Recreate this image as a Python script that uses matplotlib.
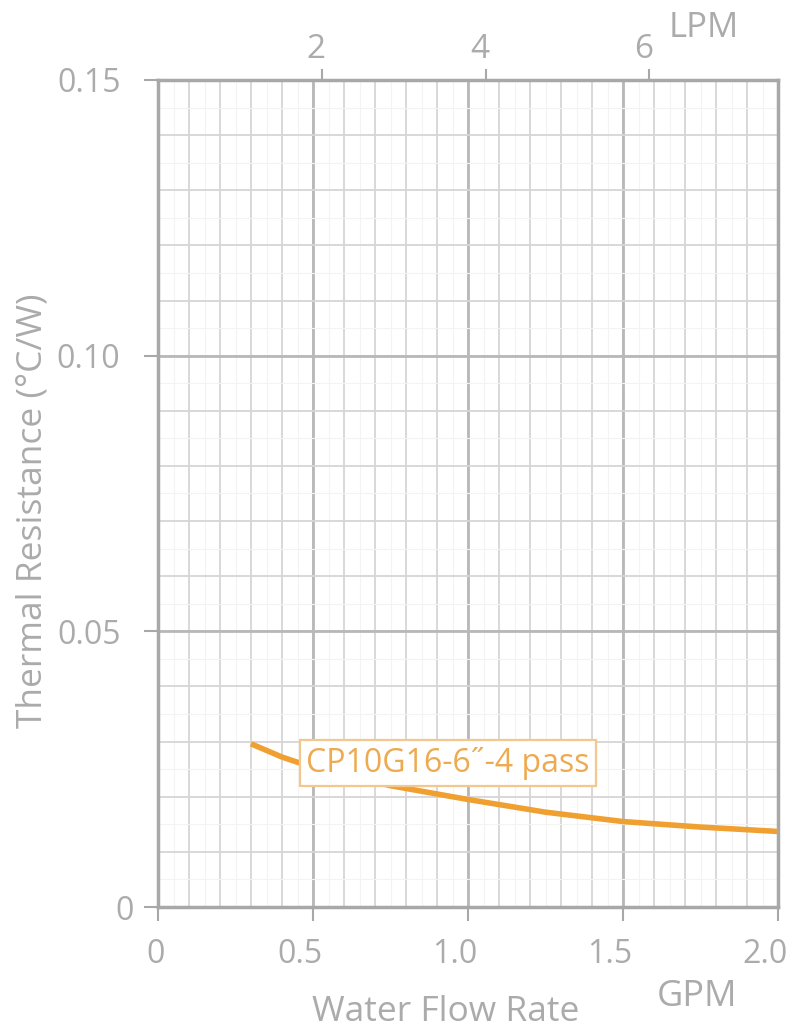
import numpy as np
import matplotlib.pyplot as plt
from matplotlib.ticker import FixedLocator
from matplotlib.transforms import ScaledTranslation

# data
flow_gpm = [0.3, 0.4, 0.5, 0.75, 1.0, 1.25, 1.5, 1.75, 2.0]
resistance = [0.0296, 0.0272, 0.0253, 0.0220, 0.0195, 0.0172, 0.0155, 0.0145, 0.0137]
series_name = 'CP10G16-6˝-4 pass'
gpm_ticks = [0, 0.5, 1.0, 1.5, 2.0]
gpm_labels = ['0', '0.5', '1.0', '1.5', '2.0']
res_ticks = [0, 0.05, 0.10, 0.15]
res_labels = ['0', '0.05', '0.10', '0.15']
lpm_ticks = [2, 4, 6]

GPM_TO_LPM = 3.785

plt.rcParams['font.family'] = ['Open Sans', 'DejaVu Sans']
gray = '#a8a8a8'
txt = '#ababab'
orange = '#f0a030'

fig = plt.figure(figsize=(7.96, 10.34), dpi=100)
ax = fig.add_axes([158 / 796, 1 - 907 / 1034, 620 / 796, 827 / 1034])

ax.set_xlim(0, 2.0)
ax.set_ylim(0, 0.15)

# grid
for x in np.arange(0.05, 2.0, 0.1):
    ax.axvline(x, color='#f3f3f3', lw=0.8, zorder=0)
for x in np.arange(0.1, 2.0, 0.1):
    ax.axvline(x, color='#d6d6d6', lw=1.3, zorder=0)
for x in [0.5, 1.0, 1.5]:
    ax.axvline(x, color='#b8b8b8', lw=2.0, zorder=0)
for y in np.arange(0.005, 0.15, 0.01):
    ax.axhline(y, color='#f3f3f3', lw=0.8, zorder=0)
for y in np.arange(0.01, 0.15, 0.01):
    ax.axhline(y, color='#d6d6d6', lw=1.3, zorder=0)
for y in [0.05, 0.10]:
    ax.axhline(y, color='#b8b8b8', lw=2.0, zorder=0)

ax.plot(flow_gpm, resistance, color=orange, lw=4, zorder=3, solid_capstyle='butt')

ax.text(0.935, 0.0261, series_name, color='#eeaa50', fontsize=23, va='center', ha='center',
        zorder=4,
        bbox=dict(boxstyle='square,pad=0.2', fc='white', ec='#f3c88e', lw=1.6))

for s in ax.spines.values():
    s.set_color(gray)
    s.set_linewidth(2.5)

dpi_scale = fig.dpi_scale_trans

ax.xaxis.set_major_locator(FixedLocator(gpm_ticks))
ax.set_xticklabels(gpm_labels)
ax.yaxis.set_major_locator(FixedLocator(res_ticks))
ax.set_yticklabels(res_labels)
ax.tick_params(axis='both', colors=gray, labelcolor=txt, labelsize=23,
               length=10, width=1.5, direction='out')
ax.tick_params(axis='x', pad=12)
ax.tick_params(axis='y', pad=17)

# nudge labels like the original artwork
for lab in ax.get_xticklabels():
    dx = -2 if lab.get_text() == '0' else -13
    lab.set_transform(lab.get_transform() + ScaledTranslation(dx / 100, 0, dpi_scale))
for lab in ax.get_yticklabels():
    if lab.get_text() == '0':
        lab.set_transform(lab.get_transform() + ScaledTranslation(13 / 100, 0, dpi_scale))

top = ax.secondary_xaxis('top', functions=(lambda g: g * GPM_TO_LPM, lambda l: l / GPM_TO_LPM))
top.xaxis.set_major_locator(FixedLocator(lpm_ticks))
top.tick_params(colors=gray, labelcolor=txt, labelsize=24, length=8, width=1.5, pad=2)
top.spines['top'].set_visible(False)
for lab in top.xaxis.get_ticklabels():
    lab.set_transform(lab.get_transform() + ScaledTranslation(-6 / 100, 0, dpi_scale))

fig.text(704 / 796, 1 - 28 / 1034, 'LPM', color=txt, fontsize=25, ha='center', va='center')
fig.text(697 / 796, 1 - 997 / 1034, 'GPM', color=txt, fontsize=26, ha='center', va='center')
fig.text(446 / 796, 1 - 1012 / 1034, 'Water Flow Rate', color=txt, fontsize=25.5,
         ha='center', va='center')
fig.text(33 / 796, 1 - 511 / 1034, 'Thermal Resistance (°C/W)', color=txt, fontsize=25.5,
         ha='center', va='center', rotation=90)

fig.savefig('out.png', dpi=100, facecolor='white')
